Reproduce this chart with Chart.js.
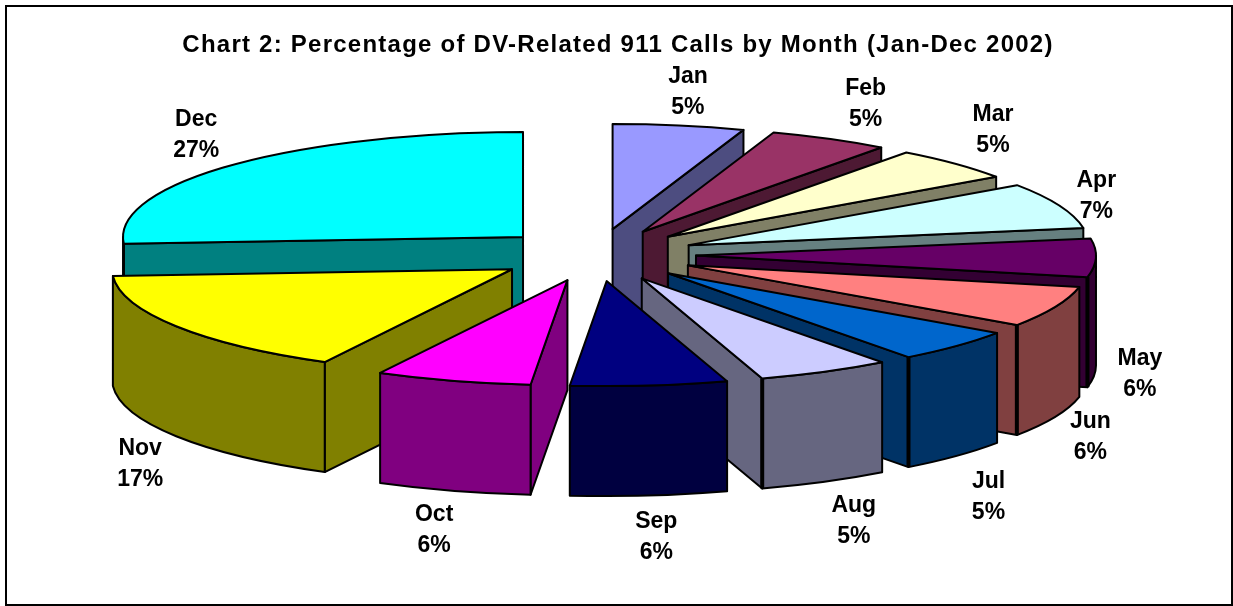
<!DOCTYPE html>
<html>
<head>
<meta charset="utf-8">
<title>Chart 2</title>
<script src="https://cdn.jsdelivr.net/npm/chart.js@4"></script>
<style>
  html, body { margin: 0; padding: 0; background: #fff; }
  canvas { display: block; }
</style>
</head>
<body>
<canvas id="chart" width="1233" height="606"></canvas>
<script>
// Data (shares; labels show them rounded)
const months = ["Jan", "Feb", "Mar", "Apr", "May", "Jun", "Jul", "Aug", "Sep", "Oct", "Nov", "Dec"];
const shares = [5.4, 4.95, 5.25, 7.2, 6.0, 6.45, 5.2, 5.49, 6.45, 6.4, 16.5, 26.5];

// Colours
const topColors = ["#9999FF", "#993366", "#FFFFCC", "#CCFFFF", "#660066", "#FF8080", "#0066CC", "#CCCCFF", "#000080", "#FF00FF", "#FFFF00", "#00FFFF"];
const sideColors = ["#4D4D80", "#4D1933", "#808066", "#668080", "#330033", "#804040", "#003366", "#666680", "#000040", "#800080", "#808000", "#008080"];

// Label shift from the rim of each slice
const labelShift = [[9, -34], [36, -35], [38, -34], [37, -10], [44, 6], [35, 20], [32, 41], [29, 39], [7, 41], [-19, 39], [-36, 27], [-35, -31]];

// View of the tilted pie
const pieCentre = { x: 596, y: 255 };
const tilt = 0.2625;
const depth = 110;
const explode = 100;

const viewTransform = function (ctx, arc) {
  ctx.translate(pieCentre.x, pieCentre.y);
  ctx.scale(1, tilt);
  ctx.translate(-arc.x, -arc.y);
};

const apexOf = function (arc) {
  const mid = (arc.startAngle + arc.endAngle) / 2;
  return {
    x: arc.x + Math.cos(mid) * explode,
    y: arc.y + Math.sin(mid) * explode,
  };
};

const paintPath = function (ctx, arc, color, buildPath) {
  ctx.save();
  viewTransform(ctx, arc);
  ctx.beginPath();
  buildPath();
  ctx.restore();
  if (color) {
    ctx.fillStyle = color;
    ctx.fill();
  }
  ctx.lineWidth = 2;
  ctx.lineJoin = "round";
  ctx.strokeStyle = "#000";
  ctx.stroke();
};

const drawRadialFace = function (ctx, arc, angle, color) {
  const apex = apexOf(arc);
  const lift = depth / tilt;
  const rimX = apex.x + Math.cos(angle) * arc.outerRadius;
  const rimY = apex.y + Math.sin(angle) * arc.outerRadius;
  paintPath(ctx, arc, color, () => {
    ctx.moveTo(apex.x, apex.y);
    ctx.lineTo(rimX, rimY);
    ctx.lineTo(rimX, rimY + lift);
    ctx.lineTo(apex.x, apex.y + lift);
    ctx.closePath();
  });
};

const drawRim = function (ctx, arc, color) {
  // only the front half of the rim can be seen
  const from = Math.max(arc.startAngle, 0);
  const to = Math.min(arc.endAngle, Math.PI);
  if (to <= from) return;
  const apex = apexOf(arc);
  const lift = depth / tilt;
  paintPath(ctx, arc, color, () => {
    ctx.arc(apex.x, apex.y, arc.outerRadius, from, to);
    ctx.arc(apex.x, apex.y + lift, arc.outerRadius, to, from, true);
    ctx.closePath();
  });
};

// the right hand slices have a heavy line where the side meets the rim
const drawCorner = function (ctx, arc) {
  const apex = apexOf(arc);
  const lift = depth / tilt;
  const rimX = apex.x + Math.cos(arc.endAngle) * arc.outerRadius;
  const rimY = apex.y + Math.sin(arc.endAngle) * arc.outerRadius;
  ctx.save();
  viewTransform(ctx, arc);
  ctx.beginPath();
  ctx.moveTo(rimX, rimY);
  ctx.lineTo(rimX, rimY + lift);
  ctx.restore();
  ctx.lineWidth = 4;
  ctx.strokeStyle = "#000";
  ctx.stroke();
};

const drawTop = function (ctx, arc) {
  const apex = apexOf(arc);
  ctx.save();
  viewTransform(ctx, arc);
  ctx.translate(apex.x - arc.x, apex.y - arc.y);
  arc.draw(ctx);
  ctx.restore();
  paintPath(ctx, arc, null, () => {
    ctx.moveTo(apex.x, apex.y);
    ctx.arc(apex.x, apex.y, arc.outerRadius, arc.startAngle, arc.endAngle);
    ctx.closePath();
  });
};

//3D pie plugin: paints the arcs of the dataset back to front
const pie3d = {
  id: "pie3d",
  beforeDraw(chart) {
    const ctx = chart.ctx;
    ctx.save();
    ctx.fillStyle = "#fff";
    ctx.fillRect(0, 0, chart.width, chart.height);
    ctx.lineWidth = 2;
    ctx.strokeStyle = "#000";
    ctx.strokeRect(6, 6, 1226, 599);
    ctx.restore();
    // the title is spaced out, chart.js has no option for it
    ctx.letterSpacing = "1.24px";
  },
  beforeDatasetDraw(chart, args) {
    const ctx = chart.ctx;
    ctx.letterSpacing = "0px";
    const arcs = args.meta.data;
    const depthOrder = arcs
      .map((arc, i) => ({ arc, i, mid: (arc.startAngle + arc.endAngle) / 2 }))
      .sort((a, b) => Math.sin(a.mid) - Math.sin(b.mid));

    depthOrder.forEach(({ arc, i }) => {
      const endFace = Math.cos(arc.endAngle) > 0;
      if (endFace) drawRadialFace(ctx, arc, arc.endAngle, sideColors[i]);
      if (Math.cos(arc.startAngle) < 0) drawRadialFace(ctx, arc, arc.startAngle, sideColors[i]);
      drawRim(ctx, arc, sideColors[i]);
      if (endFace && Math.sin(arc.endAngle) > 0) drawCorner(ctx, arc);
      drawTop(ctx, arc);
    });
    return false;
  },
  afterDatasetsDraw(chart) {
    const ctx = chart.ctx;
    ctx.save();
    ctx.font = 'bold 23px "Liberation Sans", Arial, sans-serif';
    ctx.fillStyle = "#000";
    ctx.textAlign = "center";
    ctx.textBaseline = "middle";
    chart.getDatasetMeta(0).data.forEach((arc, i) => {
      const mid = (arc.startAngle + arc.endAngle) / 2;
      const apex = apexOf(arc);
      const front = Math.sin(mid) > -0.05;
      const x = pieCentre.x + (apex.x - arc.x) + Math.cos(mid) * arc.outerRadius + labelShift[i][0];
      const y =
        pieCentre.y +
        (apex.y - arc.y + Math.sin(mid) * arc.outerRadius) * tilt +
        (front ? depth : 0) +
        labelShift[i][1];
      ctx.fillText(months[i], x, y - 15);
      ctx.fillText(`${Math.round(shares[i])}%`, x, y + 16);
    });
    ctx.restore();
  },
};

new Chart(document.getElementById("chart"), {
  type: "pie",
  data: {
    labels: months,
    datasets: [
      {
        data: shares,
        backgroundColor: topColors,
        borderWidth: 0,
        clip: false,
      },
    ],
  },
  options: {
    responsive: false,
    animation: false,
    radius: 400,
    layout: { padding: { left: 3 } },
    plugins: {
      legend: { display: false },
      tooltip: { enabled: false },
      title: {
        display: true,
        text: "Chart 2: Percentage of DV-Related 911 Calls by Month (Jan-Dec 2002)",
        color: "#000",
        font: { family: '"Liberation Sans", Arial, sans-serif', size: 24, weight: "bold" },
        padding: { top: 31, bottom: 10 },
      },
    },
  },
  plugins: [pie3d],
});
</script>
</body>
</html>
